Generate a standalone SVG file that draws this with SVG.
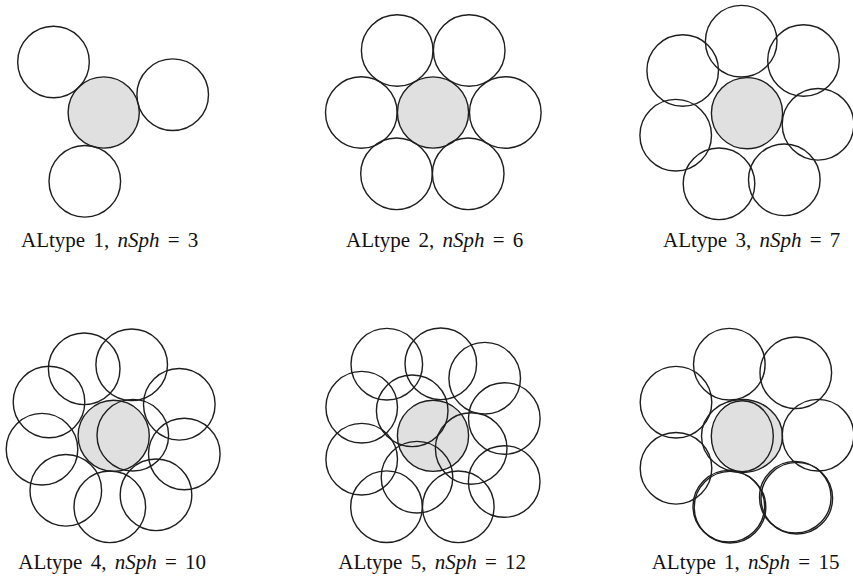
<svg xmlns="http://www.w3.org/2000/svg" width="853" height="578" viewBox="0 0 853 578">
<style>
.c{fill:none;stroke:#1e1e1e;stroke-width:1.4}
.g{fill:#dfe0df;stroke:#1e1e1e;stroke-width:1.4}
.gn{fill:#dfe0df;stroke:none}
.t{font-family:"Liberation Serif","Times New Roman",serif;font-size:21px;word-spacing:3px;fill:#111}
.i{font-style:italic}
</style>
<rect width="853" height="578" fill="#fff"/>
<g id="panel1">
<circle class="g" cx="103.7" cy="112.5" r="35.6"/>
<circle class="c" cx="53.5" cy="62" r="35.8"/>
<circle class="c" cx="172.7" cy="94.7" r="35.8"/>
<circle class="c" cx="84.8" cy="181.3" r="35.8"/>
<text class="t" x="21" y="246.5">ALtype 1, <tspan class="i">nSph</tspan> = 3</text>
</g>
<g id="panel2">
<circle class="g" cx="433" cy="112.5" r="35.6"/>
<circle class="c" cx="397.2" cy="50.5" r="35.8"/>
<circle class="c" cx="469.2" cy="50.5" r="35.8"/>
<circle class="c" cx="361.3" cy="112.5" r="35.8"/>
<circle class="c" cx="505.3" cy="112.5" r="35.8"/>
<circle class="c" cx="396.5" cy="173.8" r="35.8"/>
<circle class="c" cx="468.2" cy="173.8" r="35.8"/>
<text class="t" x="346" y="246.5">ALtype 2, <tspan class="i">nSph</tspan> = 6</text>
</g>
<g id="panel3">
<circle class="g" cx="747" cy="113.2" r="35.6"/>
<circle class="c" cx="741.2" cy="41.2" r="35.8"/>
<circle class="c" cx="803.5" cy="60.5" r="35.8"/>
<circle class="c" cx="682.7" cy="70.5" r="35.8"/>
<circle class="c" cx="818" cy="124.3" r="35.8"/>
<circle class="c" cx="675.7" cy="135.2" r="35.8"/>
<circle class="c" cx="719" cy="183.8" r="35.8"/>
<circle class="c" cx="784.3" cy="179.8" r="35.8"/>
<text class="t" x="663" y="246.5">ALtype 3, <tspan class="i">nSph</tspan> = 7</text>
</g>
<g id="panel4">
<circle class="g" cx="113.7" cy="435.8" r="35.6"/>
<circle class="c" cx="132.8" cy="435.2" r="35.8"/>
<circle class="c" cx="84.2" cy="368.8" r="35.8"/>
<circle class="c" cx="131.7" cy="364.8" r="35.8"/>
<circle class="c" cx="49" cy="402" r="35.8"/>
<circle class="c" cx="179.3" cy="404.3" r="35.8"/>
<circle class="c" cx="42" cy="449.2" r="35.8"/>
<circle class="c" cx="184.3" cy="454" r="35.8"/>
<circle class="c" cx="65.8" cy="490.3" r="35.8"/>
<circle class="c" cx="109.8" cy="506.8" r="35.8"/>
<circle class="c" cx="156" cy="494.8" r="35.8"/>
<text class="t" x="18.3" y="568.5">ALtype 4, <tspan class="i">nSph</tspan> = 10</text>
</g>
<g id="panel5">
<circle class="g" cx="433" cy="435.8" r="35.6"/>
<circle class="c" cx="386.8" cy="364.2" r="35.8"/>
<circle class="c" cx="440.8" cy="363.8" r="35.8"/>
<circle class="c" cx="484.7" cy="378.2" r="35.8"/>
<circle class="c" cx="361.7" cy="407.2" r="35.8"/>
<circle class="c" cx="412.2" cy="410.8" r="35.8"/>
<circle class="c" cx="504.3" cy="418.5" r="35.8"/>
<circle class="c" cx="471.2" cy="448.5" r="35.8"/>
<circle class="c" cx="361.7" cy="459.2" r="35.8"/>
<circle class="c" cx="417" cy="477.2" r="35.8"/>
<circle class="c" cx="504.2" cy="481.5" r="35.8"/>
<circle class="c" cx="386.5" cy="506.7" r="35.8"/>
<circle class="c" cx="458.3" cy="506.8" r="35.8"/>
<text class="t" x="338.3" y="568.5">ALtype 5, <tspan class="i">nSph</tspan> = 12</text>
</g>
<g id="panel6">
<circle class="gn" cx="747" cy="436.2" r="35.6"/>
<ellipse class="c" cx="742" cy="436" rx="40.5" ry="36.5"/>
<ellipse class="c" cx="742.3" cy="436.2" rx="31" ry="35.5"/>
<circle class="c" cx="729.3" cy="364.2" r="35.8"/>
<circle class="c" cx="795.8" cy="372.8" r="35.8"/>
<circle class="c" cx="676" cy="402.2" r="35.8"/>
<circle class="c" cx="818" cy="435.2" r="35.8"/>
<circle class="c" cx="676" cy="468.3" r="35.8"/>
<circle class="c" cx="728.8" cy="506.2" r="35.8"/>
<circle class="c" cx="730" cy="507.2" r="35.8"/>
<circle class="c" cx="795.3" cy="497.2" r="35.8"/>
<circle class="c" cx="796.8" cy="498.2" r="35.8"/>
<text class="t" x="651.7" y="568.5">ALtype 1, <tspan class="i">nSph</tspan> = 15</text>
</g>
</svg>
